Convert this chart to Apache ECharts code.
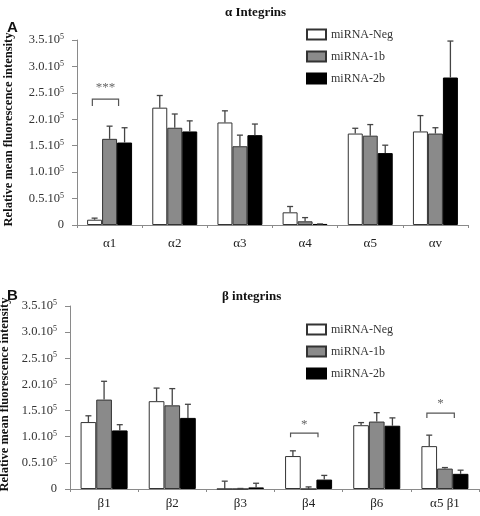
<!DOCTYPE html>
<html>
<head>
<meta charset="utf-8">
<script src="https://cdn.jsdelivr.net/npm/echarts@6/dist/echarts.min.js"></script>
<style>html,body{margin:0;padding:0;background:#fff}#c{width:480px;height:516px}</style>
</head>
<body>
<div id="c"></div>
<script>
// ---- data (values in units of 10^5) ----
const seriesNames = ['miRNA-Neg', 'miRNA-1b', 'miRNA-2b'];
const yTicks = [0, 0.5, 1.0, 1.5, 2.0, 2.5, 3.0, 3.5];

const catsA = ['\u03b11', '\u03b12', '\u03b13', '\u03b14', '\u03b15', '\u03b1v'];
const negA = [0.10, 2.22, 1.94, 0.24, 1.73, 1.77];
const oneBA = [1.63, 1.84, 1.49, 0.07, 1.69, 1.73];
const twoBA = [1.56, 1.77, 1.70, 0.02, 1.36, 2.79];
const negErrA = [0.03, 0.23, 0.22, 0.11, 0.10, 0.30];
const oneBErrA = [0.24, 0.26, 0.21, 0.07, 0.21, 0.11];
const twoBErrA = [0.28, 0.20, 0.21, 0.00, 0.15, 0.69];
const sigA = [{ cat: 0, top: 2.38, leg: 2.25, star: 2.60, text: '***' }];

const catsB = ['\u03b21', '\u03b22', '\u03b23', '\u03b24', '\u03b26', '\u03b15 \u03b21'];
const negB = [1.28, 1.68, 0.00, 0.63, 1.22, 0.82];
const oneBB = [1.71, 1.60, 0.00, 0.00, 1.29, 0.39];
const twoBB = [1.12, 1.36, 0.03, 0.18, 1.21, 0.29];
const negErrB = [0.12, 0.25, 0.15, 0.10, 0.05, 0.21];
const oneBErrB = [0.35, 0.32, 0.01, 0.04, 0.17, 0.02];
const twoBErrB = [0.11, 0.26, 0.08, 0.08, 0.15, 0.07];
const sigB = [
  { cat: 3, top: 1.07, leg: 0.99, star: 1.24, text: '*' },
  { cat: 5, top: 1.45, leg: 1.36, star: 1.63, text: '*' }
];

// ---- styles ----
const SERIF = '"Liberation Serif", "Times New Roman", serif';
const GAP = 0.31;
const fills = ['#ffffff', '#8a8a8a', '#000000'];
const borders = ['#333333', '#333333', '#000000'];

function yLabel(v) {
  if (v === 0) return '{a|0}';
  return '{a|' + v.toFixed(1) + '.10}{s|5}';
}

function makeAxes(gi, cats, labelMargin, nameGap) {
  const x = {
    type: 'category', gridIndex: gi, data: cats,
    axisLine: { lineStyle: { color: '#8a8a8a', width: 1 } },
    axisTick: { show: true, length: 3, lineStyle: { color: '#8a8a8a' } },
    axisLabel: { color: '#222', fontFamily: SERIF, fontSize: 13, margin: labelMargin },
    splitLine: { show: false }
  };
  const y = {
    type: 'value', gridIndex: gi, min: 0, max: 3.5, interval: 0.5,
    name: 'Relative mean fluorescence intensity',
    nameLocation: 'middle', nameGap: nameGap, nameRotate: 90,
    nameTextStyle: { fontFamily: SERIF, fontWeight: 'bold', fontSize: 12.5, color: '#111', padding: [0, 0, 0, 6] },
    axisLine: { show: true, lineStyle: { color: '#8a8a8a', width: 1 } },
    axisTick: { show: true, length: 5, lineStyle: { color: '#8a8a8a' } },
    splitLine: { show: false },
    axisLabel: {
      margin: 13, formatter: yLabel,
      rich: {
        a: { fontFamily: SERIF, fontSize: 12.5, color: '#333' },
        s: { fontFamily: SERIF, fontSize: 8, color: '#333', verticalAlign: 'top', lineHeight: 14 }
      }
    }
  };
  return [x, y];
}

function barSeries(gi, vals) {
  return vals.map((arr, s) => ({
    type: 'bar', name: seriesNames[s], xAxisIndex: gi, yAxisIndex: gi,
    data: arr, barGap: '0%', barCategoryGap: (GAP * 100) + '%',
    itemStyle: { color: fills[s], borderColor: borders[s], borderWidth: 1 },
    emphasis: { disabled: true }, z: 2
  }));
}

function errSeries(gi, vals, errs) {
  const data = [];
  vals.forEach((arr, s) => arr.forEach((v, c) => data.push([c, v, errs[s][c], s])));
  return {
    type: 'custom', xAxisIndex: gi, yAxisIndex: gi, data: data, z: 5, silent: true,
    encode: { x: 0, y: 1 }, clip: false,
    renderItem: function (params, api) {
      const c = api.value(0), v = api.value(1), e = api.value(2), s = api.value(3);
      const base = api.coord([c, v]);
      const top = api.coord([c, v + e]);
      const band = api.size([1, 0])[0];
      const bw = band * (1 - GAP) / 3;
      const x = base[0] + (s - 1) * bw;
      const st = { stroke: '#444', lineWidth: 1.3 };
      return {
        type: 'group', children: [
          { type: 'line', shape: { x1: x, y1: base[1], x2: x, y2: top[1] }, style: st },
          { type: 'line', shape: { x1: x - 3, y1: top[1], x2: x + 3, y2: top[1] }, style: st }
        ]
      };
    }
  };
}

function sigSeries(gi, sig) {
  return {
    type: 'custom', xAxisIndex: gi, yAxisIndex: gi, z: 6, silent: true, clip: false,
    data: sig.map(d => [d.cat, d.top, d.leg, d.star]),
    encode: { x: 0, y: 1 },
    renderItem: function (params, api) {
      const c = api.value(0);
      const band = api.size([1, 0])[0];
      const bw = band * (1 - GAP) / 3;
      const mid = api.coord([c, api.value(1)]);
      const legY = api.coord([c, api.value(2)])[1];
      const starY = api.coord([c, api.value(3)])[1];
      const x1 = mid[0] - bw - 0.15 * bw, x2 = mid[0] + bw - 0.4 * bw;
      const st = { stroke: '#555', lineWidth: 1.2, fill: null };
      return {
        type: 'group', children: [
          { type: 'polyline', shape: { points: [[x1, legY], [x1, mid[1]], [x2, mid[1]], [x2, legY]] }, style: st },
          { type: 'text', style: { text: sig[params.dataIndex].text, x: (x1 + x2) / 2, y: starY,
            align: 'center', verticalAlign: 'middle', fill: '#666', font: '13px ' + SERIF } }
        ]
      };
    }
  };
}

const axA = makeAxes(0, catsA, 12, 62);
const axB = makeAxes(1, catsB, 8, 55);

const legendCommon = {
  orient: 'vertical', left: 301, itemWidth: 19, itemHeight: 10, itemGap: 7, itemTextGap: 7,
  icon: 'rect', selectedMode: false,
  textStyle: { fontFamily: SERIF, fontSize: 12, color: '#333', lineHeight: 15 },
  data: seriesNames
};

const option = {
  animation: false,
  backgroundColor: '#fff',
  title: [
    { text: '\u03b1 Integrins', left: 220, top: 1, textStyle: { fontFamily: SERIF, fontWeight: 'bold', fontSize: 13, color: '#111' } },
    { text: 'A', left: 2, top: 15, textStyle: { fontFamily: '"Liberation Sans", Arial, sans-serif', fontWeight: 'bold', fontSize: 15, color: '#111' } },
    { text: '\u03b2 integrins', left: 217, top: 285, textStyle: { fontFamily: SERIF, fontWeight: 'bold', fontSize: 13, color: '#111' } },
    { text: 'B', left: 2, top: 283, textStyle: { fontFamily: '"Liberation Sans", Arial, sans-serif', fontWeight: 'bold', fontSize: 15, color: '#111' } }
  ],
  legend: [
    Object.assign({}, legendCommon, { top: 22 }),
    Object.assign({}, legendCommon, { top: 317 })
  ],
  grid: [
    { left: 77, right: 12, top: 40, bottom: 291, containLabel: false, outerBoundsMode: 'none' },
    { left: 70, right: 1, top: 306, bottom: 27, containLabel: false, outerBoundsMode: 'none' }
  ],
  xAxis: [axA[0], axB[0]],
  yAxis: [axA[1], axB[1]],
  series: [].concat(
    barSeries(0, [negA, oneBA, twoBA]),
    [errSeries(0, [negA, oneBA, twoBA], [negErrA, oneBErrA, twoBErrA]), sigSeries(0, sigA)],
    barSeries(1, [negB, oneBB, twoBB]),
    [errSeries(1, [negB, oneBB, twoBB], [negErrB, oneBErrB, twoBErrB]), sigSeries(1, sigB)]
  )
};

const chart = echarts.init(document.getElementById('c'), null, { renderer: 'canvas' });
chart.setOption(option);
</script>
</body>
</html>
